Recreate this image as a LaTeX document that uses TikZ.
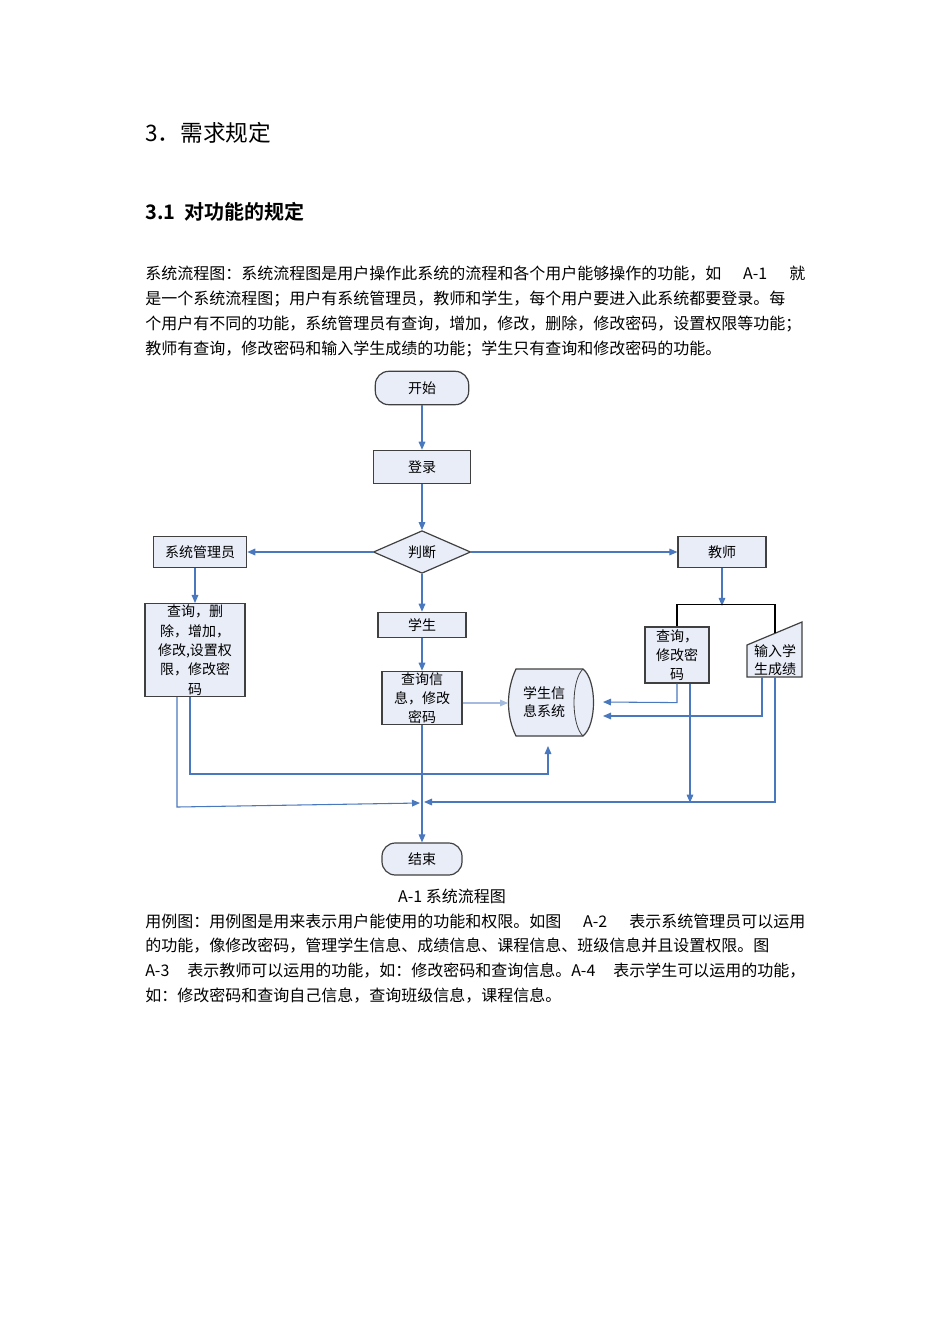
\documentclass[tikz,border=0pt]{standalone}
\usepackage{fontspec}
\setmainfont{Liberation Serif}
\newfontfamily\cjk{Noto Sans CJK SC}
\newfontfamily\cjkb{Noto Sans CJK SC Bold}
\usetikzlibrary{shapes.geometric,calc,arrows.meta}
\XeTeXlinebreaklocale "zh"
\XeTeXlinebreakskip=0pt plus 3pt
\definecolor{fillc}{HTML}{E9EDF8}
\definecolor{arc}{HTML}{4A78BE}
\newcommand{\fullline}[1]{\hbox to 495pt{#1}}
\begin{document}
\begin{tikzpicture}[x=0.75pt,y=-0.75pt,
  box/.style={draw=black!75,line width=0.9pt,fill=fillc,font=\cjk\fontsize{10.5}{14}\selectfont,align=center,inner sep=1pt},
  term/.style={box,rounded corners=10pt},
  cn/.style={draw=arc,line width=0.8pt},
  ar/.style={cn,-{Triangle[length=6pt,width=5pt]}},
  line/.style={font=\cjk\fontsize{12}{15}\selectfont,anchor=west,inner sep=0pt},
  lastline/.style={line}]
\useasboundingbox (0,0) rectangle (950,1344);
\node[anchor=west,inner sep=0pt,font=\cjk\fontsize{17}{20}\selectfont] (t1) at (145,133) {3．需求规定};
\node[anchor=west,inner sep=0pt,font=\cjkb\fontsize{15}{18}\selectfont] (t2) at (145,212) {3.1\ \ 对功能的规定};
\node[line] (p1) at (145,274) {\fullline{系统流程图：系统流程图是用户操作此系统的流程和各个用户能够操作的功能，如 A-1 就}};
\node[line] (p2) at (145,299) {\fullline{是一个系统流程图；用户有系统管理员，教师和学生，每个用户要进入此系统都要登录。每}};
\node[line] (p3) at (145,324) {\fullline{个用户有不同的功能，系统管理员有查询，增加，修改，删除，修改密码，设置权限等功能；}};
\node[lastline] (p4) at (145,349) {教师有查询，修改密码和输入学生成绩的功能；学生只有查询和修改密码的功能。};
\node[font=\cjk\fontsize{12}{14}\selectfont,inner sep=0pt] (cap) at (452,896) {A-1 系统流程图};
\node[line] (q1) at (145,921) {\fullline{用例图：用例图是用来表示用户能使用的功能和权限。如图 A-2 表示系统管理员可以运用}};
\node[line] (q2) at (145,946) {\fullline{的功能，像修改密码，管理学生信息、成绩信息、课程信息、班级信息并且设置权限。图}};
\node[line] (q3) at (145,971) {\fullline{A-3 表示教师可以运用的功能，如：修改密码和查询信息。A-4 表示学生可以运用的功能，}};
\node[lastline] (q4) at (145,996) {如：修改密码和查询自己信息，查询班级信息，课程信息。};

% flowchart
\node[term,minimum width=70pt,minimum height=25pt] (start) at (422,388) {开始};
\node[box,minimum width=73pt,minimum height=25pt] (login) at (422,467) {登录};
\node[box,diamond,aspect=2.3,minimum width=73pt,minimum height=32pt,inner sep=0pt] (dec) at (422,552) {判断};
\node[box,minimum width=70pt,minimum height=23pt] (adm) at (200,552) {系统管理员};
\node[box,minimum width=66pt,minimum height=23pt] (tea) at (722,552) {教师};
\node[box,minimum width=66pt,minimum height=19pt] (stu) at (422,625) {学生};
\node[box,minimum width=75pt,minimum height=67pt,font=\cjk\fontsize{10.5}{14.5}\selectfont] (admf) at (195,650) {查询，删\\除，增加，\\修改,设置权\\限，修改密\\码};
\node[box,minimum width=60pt,minimum height=40pt,font=\cjk\fontsize{10.5}{14}\selectfont] (stuf) at (422,698) {查询信\\息，修改\\密码};
\node[box,minimum width=48pt,minimum height=42pt] (teaf) at (677,655) {查询，\\修改密\\码};
% manual input
\path[box] (747,645) -- (802,622) -- (802,677) -- (747,677) -- cycle;
\node[font=\cjk\fontsize{10.5}{14}\selectfont,align=left,inner sep=0pt] (inp) at (775,660) {输入学\\生成绩};
\coordinate (inptop) at (775,633);
\coordinate (inpbot) at (775,677);
% cylinder
\path[box] (516,669) -- (583,669) .. controls (597,680) and (597,725) .. (583,736) -- (516,736) .. controls (506,716) and (506,690) .. (516,669) -- cycle;
\draw[black!75,line width=0.6pt] (583,669) .. controls (571,680) and (571,725) .. (583,736);
\node[font=\cjk\fontsize{10.5}{14}\selectfont,align=center,inner sep=0pt] (db) at (544,702) {学生信\\息系统};
\coordinate (dbL) at (508,703);
\coordinate (dbR) at (603,702);
\coordinate (dbR2) at (603,716);
\coordinate (dbB) at (548,746);
\node[term,minimum width=60pt,minimum height=24pt] (end) at (422,859) {结束};
\coordinate (jn) at (422,803);

\draw[ar] (start) -- (login);
\draw[ar] (login) -- (dec);
\draw[ar] (dec) -- (adm);
\draw[ar] (dec) -- (tea);
\draw[ar] (dec) -- (stu);
\draw[ar] (adm.south -| admf.north) -- (admf.north);
\draw[ar] (stu) -- (stuf);
\draw[ar] (tea.south) -- ++(0,38);
\draw[black,line width=0.9pt] (teaf.north) -- ++(0,-22) -| (inptop);
\draw[ar,draw=arc!50] (stuf.east |- dbL) -- (dbL);
\draw[ar] (teaf.south) -- ++(0,19) -- (dbR);
\draw[ar] ($(inpbot)+(-13,0)$) -- ++(0,39) -- (dbR2);
\draw[ar] ($(admf.south)+(-5,0)$) -- ++(0,77) -| (dbB);
\draw[ar] ($(admf.south)+(-18,0)$) -- ++(0,110) -- ($(jn)+(-2,0)$);
\draw[ar] ($(teaf.south)+(13,0)$) -- ++(0,119);
\draw[ar] (inpbot) -- ++(0,125) -- ($(jn)+(2,-1)$);
\draw[ar] (stuf) -- (end);
\end{tikzpicture}
\end{document}
